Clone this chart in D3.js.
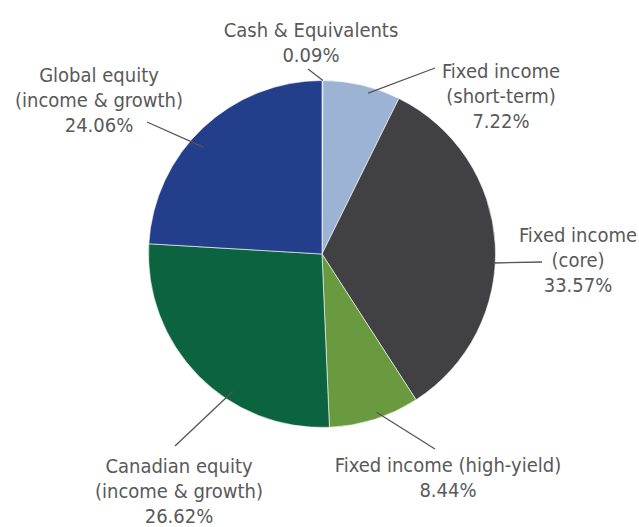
<!DOCTYPE html>
<html>
<head>
<meta charset="utf-8">
<script src="https://cdn.jsdelivr.net/npm/d3@7"></script>
<style>
  body { margin: 0; background: #fff; }
  text { font-family: "DejaVu Sans Condensed", "DejaVu Sans", sans-serif; font-stretch: condensed; fill: #595959; }
</style>
</head>
<body>
<script>
(() => {
    // data
    var categories = ["Cash & Equivalents", "Fixed income (short-term)", "Fixed income (core)",
        "Fixed income (high-yield)", "Canadian equity (income & growth)", "Global equity (income & growth)"];
    var values = [0.09, 7.22, 33.57, 8.44, 26.62, 24.06];
    var labelLines = [
        ["Cash & Equivalents"],
        ["Fixed income", "(short-term)"],
        ["Fixed income", "(core)"],
        ["Fixed income (high-yield)"],
        ["Canadian equity", "(income & growth)"],
        ["Global equity", "(income & growth)"]
    ];
    var colors = ["#7f7f7f", "#9cb3d4", "#414042", "#6a9a3f", "#0c6340", "#233e8b"];

    var w = 639, h = 527;
    var cx = 322, cy = 254, radius = 173.5;

    // where each label sits (center x, first baseline) and where its leader line ends
    var labelPos = [
        { x: 311, y: 37, lx: 308, ly: 69 },
        { x: 501, y: 78, lx: 435, ly: 68 },
        { x: 578, y: 242, lx: 542, ly: 262 },
        { x: 448, y: 472, lx: 435, ly: 449 },
        { x: 179, y: 473, lx: 175, ly: 446 },
        { x: 99, y: 82, lx: 147, ly: 122 }
    ];
    // angle/radius where leader lines start inside the slices
    var leadStart = [
        { a: 0.3, r: 1.0 },
        { a: 16, r: 0.965 },
        { a: 93, r: 0.99 },
        { a: 161, r: 0.965 },
        { a: 213, r: 0.945 },
        { a: 312, r: 0.92 }
    ];
    var lineH = 25;

    var svg = d3.select("body").append("svg")
        .attr("width", w).attr("height", h);

    var graph = svg.append("g").attr("transform", "translate(" + [cx, cy] + ")");

    var pie = d3.pie().sort(null).value(d => d);
    var arcs = pie(values);
    var arc = d3.arc().innerRadius(0).outerRadius(radius);

    graph.selectAll(".slice").data(arcs).enter()
        .append("path").attr("class", "slice")
        .attr("d", arc)
        .attr("fill", (d, i) => colors[i])
        .attr("stroke", "#fff").attr("stroke-width", 0.6);

    // leader lines
    svg.selectAll(".leader").data(arcs).enter()
        .append("line").attr("class", "leader")
        .attr("x1", (d, i) => cx + Math.sin(leadStart[i].a * Math.PI / 180) * radius * leadStart[i].r)
        .attr("y1", (d, i) => cy - Math.cos(leadStart[i].a * Math.PI / 180) * radius * leadStart[i].r)
        .attr("x2", (d, i) => labelPos[i].lx)
        .attr("y2", (d, i) => labelPos[i].ly)
        .attr("stroke", "#555").attr("stroke-width", 1.3);

    // labels
    var labels = svg.selectAll(".label").data(arcs).enter()
        .append("text").attr("class", "label")
        .attr("text-anchor", "middle")
        .attr("font-size", 20);

    labels.each(function (d, i) {
        var t = d3.select(this);
        var lines = labelLines[i].concat([values[i].toFixed(2) + "%"]);
        lines.forEach((s, j) => {
            t.append("tspan")
                .attr("x", labelPos[i].x)
                .attr("y", labelPos[i].y + j * lineH)
                .text(s);
        });
    });
})()
</script>
</body>
</html>
